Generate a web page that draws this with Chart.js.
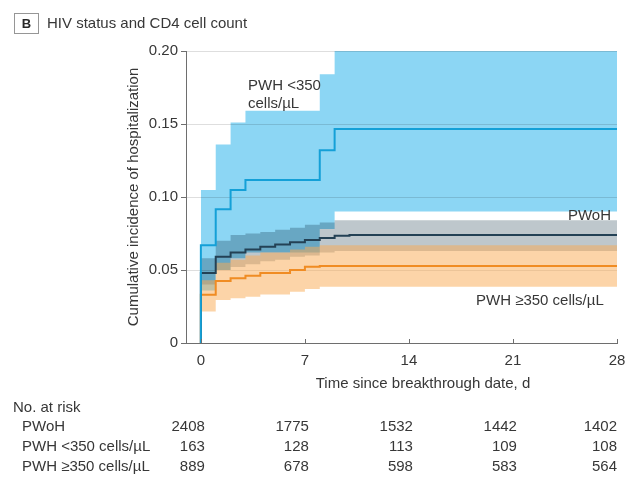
<!DOCTYPE html>
<html>
<head>
<meta charset="utf-8">
<script src="https://cdn.jsdelivr.net/npm/chart.js@4/dist/chart.umd.min.js"></script>
<style>
  html, body { margin: 0; padding: 0; background: #fff; }
  #wrap { position: relative; width: 641px; height: 479px; }
  canvas { display: block; }
</style>
</head>
<body>
<div id="wrap"><canvas id="c" width="641" height="479"></canvas></div>
<script>
// ---------- data ----------
const xTickValues = [0, 7, 14, 21, 28];
const yTickValues = [0, 0.05, 0.10, 0.15, 0.20];
const yTickLabels = ['0', '0.05', '0.10', '0.15', '0.20'];

// PWoH
const pwohTimes = [0, 0, 1, 2, 3, 4, 5, 6, 7, 8, 9, 10, 28];
const pwohRisk  = [0, 0.048, 0.059, 0.062, 0.064, 0.066, 0.0675, 0.069, 0.0705, 0.072, 0.0735, 0.074, 0.074];
const pwohCiTimes = [0, 1, 2, 3, 4, 5, 6, 7, 8, 9, 10, 28];
const pwohUpper = [0.058, 0.070, 0.074, 0.075, 0.076, 0.0775, 0.079, 0.081, 0.0826, 0.084, 0.084, 0.084];
const pwohLower = [0.040, 0.050, 0.052, 0.054, 0.056, 0.057, 0.059, 0.060, 0.062, 0.063, 0.063, 0.063];

// PWH <350 cells/µL
const lowTimes = [0, 0, 1, 2, 3, 8, 9, 28];
const lowRisk  = [0, 0.067, 0.0916, 0.1048, 0.1116, 0.132, 0.1466, 0.1466];
const lowCiTimes = [0, 1, 2, 3, 8, 9, 28];
const lowUpper = [0.1048, 0.136, 0.151, 0.159, 0.184, 0.20, 0.20];
const lowLower = [0.036, 0.050, 0.058, 0.062, 0.078, 0.090, 0.090];

// PWH ≥350 cells/µL
const highTimes = [0, 0, 1, 2, 3, 4, 6, 7, 8, 28];
const highRisk  = [0, 0.033, 0.0425, 0.0443, 0.046, 0.048, 0.050, 0.0522, 0.0527, 0.0527];
const highCiTimes = [0, 1, 2, 3, 4, 6, 7, 8, 28];
const highUpper = [0.043, 0.055, 0.057, 0.060, 0.062, 0.064, 0.066, 0.067, 0.067];
const highLower = [0.0215, 0.0295, 0.0306, 0.0317, 0.0333, 0.0351, 0.037, 0.0385, 0.0385];

// Number at risk table
const riskGroups = ['PWoH', 'PWH <350 cells/µL', 'PWH ≥350 cells/µL'];
const riskPwoh = [2408, 1775, 1532, 1442, 1402];
const riskLow  = [163, 128, 113, 109, 108];
const riskHigh = [889, 678, 598, 583, 564];
const riskRows = [riskPwoh, riskLow, riskHigh];

// ---------- helpers ----------
const FONT = '"Liberation Sans", Arial, sans-serif';
const TXT = 'rgb(55,55,55)';
function pts(xs, ys) { return xs.map((x, i) => ({ x: x, y: ys[i] })); }

const bandBase = { pointRadius: 0, borderWidth: 0, borderColor: 'transparent', stepped: 'before', tension: 0 };
const lineBase = { pointRadius: 0, borderWidth: 2, stepped: 'before', tension: 0, fill: false };

const datasets = [
  Object.assign({}, bandBase, { label: 'lowUpper', data: pts(lowCiTimes, lowUpper), fill: '+1', backgroundColor: 'rgb(140,214,244)', order: 12 }),
  Object.assign({}, bandBase, { label: 'lowLower', data: pts(lowCiTimes, lowLower), fill: false, order: 12 }),
  Object.assign({}, bandBase, { label: 'pwohUpper', data: pts(pwohCiTimes, pwohUpper), fill: '+1', backgroundColor: 'rgb(190,199,204)', order: 11 }),
  Object.assign({}, bandBase, { label: 'pwohLower', data: pts(pwohCiTimes, pwohLower), fill: false, order: 11 }),
  Object.assign({}, bandBase, { label: 'highUpper', data: pts(highCiTimes, highUpper), fill: '+1', backgroundColor: 'rgba(249,169,81,0.5)', order: 10 }),
  Object.assign({}, bandBase, { label: 'highLower', data: pts(highCiTimes, highLower), fill: false, order: 10 }),
  Object.assign({}, lineBase, { label: 'PWH ≥350 cells/µL', data: pts(highTimes, highRisk), borderColor: 'rgb(240,140,35)', order: 3 }),
  Object.assign({}, lineBase, { label: 'PWoH', data: pts(pwohTimes, pwohRisk), borderColor: 'rgb(35,65,85)', order: 2 }),
  Object.assign({}, lineBase, { label: 'PWH <350 cells/µL', data: pts(lowTimes, lowRisk), borderColor: 'rgb(20,160,215)', order: 1 })
];

// blue and grey confidence bands are blended by multiplication; the orange band is translucent on top
const blend = {
  id: 'blend',
  beforeDatasetsDraw(chart) { chart.ctx.globalCompositeOperation = 'multiply'; },
  afterDatasetDraw(chart, args) { if (args.index === 5) chart.ctx.globalCompositeOperation = 'source-over'; },
  afterDatasetsDraw(chart) { chart.ctx.globalCompositeOperation = 'source-over'; }
};

const decor = {
  id: 'decor',
  afterDraw(chart) {
    const ctx = chart.ctx;
    const xs = chart.scales.x;
    const area = chart.chartArea;
    ctx.save();
    ctx.globalCompositeOperation = 'source-over';
    // x tick marks (pointing up)
    ctx.strokeStyle = 'rgb(110,110,110)';
    ctx.lineWidth = 1;
    xTickValues.forEach(v => {
      const px = Math.round(xs.getPixelForValue(v)) + 0.5;
      ctx.beginPath();
      ctx.moveTo(px, area.bottom);
      ctx.lineTo(px, area.bottom - 4);
      ctx.stroke();
    });
    // panel label
    ctx.strokeStyle = 'rgb(150,150,150)';
    ctx.strokeRect(14.5, 13.5, 24, 20);
    ctx.fillStyle = 'rgb(40,40,40)';
    ctx.font = 'bold 13px ' + FONT;
    ctx.textAlign = 'center';
    ctx.textBaseline = 'middle';
    ctx.fillText('B', 26.5, 24);
    ctx.font = '15px ' + FONT;
    ctx.textAlign = 'left';
    ctx.textBaseline = 'alphabetic';
    ctx.fillStyle = TXT;
    ctx.fillText('HIV status and CD4 cell count', 47, 28);
    // axis titles
    ctx.textAlign = 'center';
    ctx.fillText('Time since breakthrough date, d', 423, 388);
    ctx.save();
    ctx.translate(138, (area.top + area.bottom) / 2);
    ctx.rotate(-Math.PI / 2);
    ctx.fillText('Cumulative incidence of hospitalization', 0, 0);
    ctx.restore();
    // in-plot labels
    ctx.textAlign = 'left';
    ctx.fillText('PWH <350', 248, 90);
    ctx.fillText('cells/µL', 248, 108);
    ctx.textAlign = 'right';
    ctx.fillText('PWoH', 611, 220);
    ctx.textAlign = 'left';
    ctx.fillText('PWH ≥350 cells/µL', 476, 305);
    // risk table
    ctx.fillText('No. at risk', 13, 412);
    const rowY = [431, 451, 471];
    riskGroups.forEach((g, r) => {
      ctx.textAlign = 'left';
      ctx.fillText(g, 22, rowY[r]);
      ctx.textAlign = 'right';
      riskRows[r].forEach((n, i) => {
        const px = Math.min(xs.getPixelForValue(xTickValues[i]) + 4, area.right);
        ctx.fillText(String(n), px, rowY[r]);
      });
    });
    ctx.restore();
  }
};

new Chart(document.getElementById('c'), {
  type: 'line',
  data: { datasets: datasets },
  options: {
    responsive: false,
    animation: false,
    devicePixelRatio: 1,
    layout: { padding: { top: 51, right: 24, left: 0, bottom: 0 } },
    plugins: {
      legend: { display: false }, tooltip: { enabled: false }, title: { display: false },
      filler: { drawTime: 'beforeDatasetDraw' }
    },
    scales: {
      x: {
        type: 'linear', min: -1, max: 28,
        afterFit(s) { s.height = 136; },
        afterBuildTicks(s) { s.ticks = xTickValues.map(v => ({ value: v })); },
        grid: { display: false, drawTicks: false },
        border: { display: true, color: 'rgb(110,110,110)', width: 1 },
        ticks: { padding: 9, color: TXT, font: { family: FONT, size: 15 }, maxRotation: 0, autoSkip: false }
      },
      y: {
        type: 'linear', min: 0, max: 0.2,
        afterFit(s) { s.width = 186; },
        afterBuildTicks(s) { s.ticks = yTickValues.map(v => ({ value: v })); },
        grid: { color: 'rgb(222,222,222)', lineWidth: 1, tickLength: 5, tickColor: 'rgb(110,110,110)', drawTicks: true },
        border: { display: true, color: 'rgb(110,110,110)', width: 1 },
        ticks: { padding: 3, color: TXT, font: { family: FONT, size: 15 },
          callback: (v, i) => yTickLabels[i] }
      }
    }
  },
  plugins: [blend, decor]
});
</script>
</body>
</html>
